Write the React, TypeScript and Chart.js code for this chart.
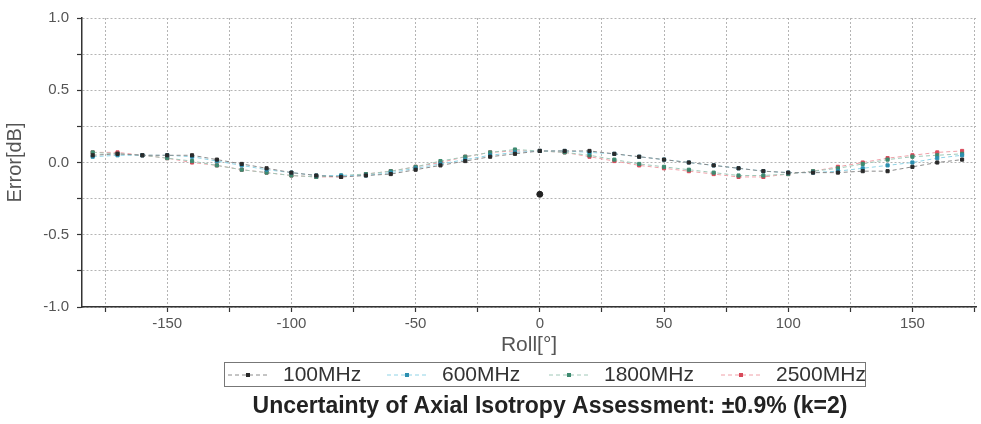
import React, { useEffect, useRef } from "react";
import { Chart, registerables } from "chart.js";

Chart.register(...registerables);

const angles = [
  -180, -170, -160, -150, -140, -130, -120, -110, -100, -90, -80, -70, -60, -50, -40, -30, -20, -10,
  0, 10, 20, 30, 40, 50, 60, 70, 80, 90, 100, 110, 120, 130, 140, 150, 160, 170,
];

const err100 = [
  0.05, 0.06, 0.05, 0.05, 0.05, 0.02, -0.01, -0.04, -0.07, -0.09, -0.1, -0.09, -0.08, -0.05, -0.02, 0.01, 0.04, 0.06,
  0.08, 0.08, 0.08, 0.06, 0.04, 0.02, 0.0, -0.02, -0.04, -0.06, -0.07, -0.07, -0.07, -0.06, -0.06, -0.03, 0.0, 0.02,
];
const err600 = [
  0.04, 0.05, 0.05, 0.05, 0.04, 0.01, -0.02, -0.05, -0.07, -0.09, -0.09, -0.09, -0.07, -0.04, -0.01, 0.02, 0.05, 0.07,
  0.08, 0.08, 0.07, 0.06, 0.04, 0.02, 0.0, -0.02, -0.04, -0.06, -0.07, -0.07, -0.06, -0.04, -0.02, 0.0, 0.03, 0.05,
];
const err1800 = [
  0.07, 0.06, 0.05, 0.03, 0.01, -0.02, -0.05, -0.07, -0.09, -0.1, -0.09, -0.08, -0.06, -0.03, 0.01, 0.04, 0.07, 0.09,
  0.08, 0.07, 0.05, 0.02, -0.01, -0.03, -0.05, -0.07, -0.09, -0.09, -0.08, -0.06, -0.04, -0.01, 0.02, 0.04, 0.05, 0.06,
];
const err2500 = [
  0.07, 0.07, 0.05, 0.03, 0.0, -0.02, -0.05, -0.07, -0.09, -0.1, -0.1, -0.08, -0.06, -0.03, 0.0, 0.04, 0.07, 0.08,
  0.08, 0.07, 0.04, 0.01, -0.02, -0.04, -0.06, -0.08, -0.1, -0.1, -0.08, -0.06, -0.03, 0.0, 0.03, 0.05, 0.07, 0.08,
];
// isolated 100MHz reading at roll 0
const outlierX = [0];
const outlierY = [-0.22];

const seriesNames = ["100MHz", "600MHz", "1800MHz", "2500MHz"];
const xTickValues = [-175, -150, -125, -100, -75, -50, -25, 0, 25, 50, 75, 100, 125, 150, 175];
const yTickValues = [-1, -0.75, -0.5, -0.25, 0, 0.25, 0.5, 0.75, 1];

const title = "Uncertainty of Axial Isotropy Assessment: \u00b10.9% (k=2)";
const FONT = "'Liberation Sans', Arial, sans-serif";

const lineColors = ["#8a8a8a", "#8fd3e6", "#a0c8b8", "#f0a0a8"];
const pointColors = ["#2a2a2a", "#2c8fb0", "#3e8a70", "#d84a5a"];

const legendPlugin = {
  id: "boxLegend",
  afterDraw(chart: any) {
    const ctx = chart.ctx;
    const ds = chart.data.datasets.filter((d: any) => !d.noLegend);
    const left = 224;
    const right = 865;
    const top = 362;
    const bottom = 386;
    ctx.save();
    ctx.strokeStyle = "#777";
    ctx.lineWidth = 1;
    ctx.strokeRect(left + 0.5, top + 0.5, right - left, bottom - top);
    ctx.font = `21px ${FONT}`;
    ctx.textBaseline = "middle";
    ctx.textAlign = "left";
    const starts = [228, 387, 549, 721];
    const cy = (top + bottom) / 2 + 1;
    ds.forEach((d: any, i: number) => {
      const sx = starts[i];
      ctx.strokeStyle = d.borderColor;
      ctx.lineWidth = 1;
      ctx.setLineDash([4, 3]);
      ctx.beginPath();
      ctx.moveTo(sx, cy);
      ctx.lineTo(sx + 40, cy);
      ctx.stroke();
      ctx.setLineDash([]);
      ctx.fillStyle = d.pointBackgroundColor;
      ctx.fillRect(sx + 18, cy - 2, 4, 4);
      ctx.fillStyle = "#333";
      ctx.fillText(d.label, sx + 55, cy);
    });
    ctx.font = `bold 23px ${FONT}`;
    ctx.textAlign = "center";
    ctx.fillStyle = "#222";
    ctx.fillText(title, 550, 407);
    ctx.restore();
  },
};

export default function App() {
  const ref = useRef<HTMLCanvasElement>(null);
  useEffect(() => {
    if (!ref.current) return;
    const series = [err100, err600, err1800, err2500];
    const datasets: any[] = series.map((vals, i) => ({
      label: seriesNames[i],
      data: angles.map((a, j) => ({ x: a, y: vals[j] })),
      borderColor: lineColors[i],
      borderWidth: 1,
      borderDash: [4, 3],
      pointStyle: "rect",
      pointRadius: 2.2,
      pointBackgroundColor: pointColors[i],
      pointBorderColor: pointColors[i],
      pointBorderWidth: 1,
      showLine: true,
      fill: false,
    }));
    datasets.push({
      label: "100MHz (0\u00b0)",
      noLegend: true,
      data: outlierX.map((x, j) => ({ x, y: outlierY[j] })),
      showLine: false,
      pointStyle: "circle",
      pointRadius: 3,
      pointBackgroundColor: "#222",
      pointBorderColor: "#222",
      borderColor: "#222",
    });
    const chart = new Chart(ref.current, {
      type: "scatter",
      data: { datasets },
      options: {
        animation: false,
        responsive: false,
        devicePixelRatio: 1,
        layout: { padding: { top: 18, right: 3, bottom: 65, left: 0 } },
        plugins: { legend: { display: false }, tooltip: { enabled: false } },
        scales: {
          x: {
            type: "linear",
            min: -184.3,
            max: 175.6,
            afterBuildTicks: (s: any) => {
              s.ticks = xTickValues.map((v) => ({ value: v }));
            },
            afterFit: (s: any) => {
              s.height = 52;
            },
            ticks: {
              autoSkip: false,
              maxRotation: 0,
              padding: 3,
              color: "#555",
              font: { size: 15, family: FONT },
              callback: (v: any) => (v % 50 === 0 ? String(v) : ""),
            },
            grid: {
              color: "#b4b4b4",
              lineWidth: 1,
              tickLength: 5,
              tickColor: "#333",
              tickWidth: 1.2,
            },
            border: { display: true, color: "#333", width: 1.5, dash: [2, 2] },
            title: {
              display: true,
              text: "Roll[\u00b0]",
              color: "#555",
              font: { size: 21, family: FONT },
              padding: { top: 0, bottom: 1 },
            },
          },
          y: {
            type: "linear",
            min: -1,
            max: 1,
            afterBuildTicks: (s: any) => {
              s.ticks = yTickValues.map((v) => ({ value: v }));
            },
            afterFit: (s: any) => {
              s.width = 82;
            },
            ticks: {
              padding: 8,
              color: "#555",
              font: { size: 15, family: FONT },
              callback: (v: any) => (Math.abs((v * 2) % 1) < 1e-9 ? Number(v).toFixed(1) : ""),
            },
            grid: {
              color: "#b4b4b4",
              lineWidth: 1,
              tickLength: 5,
              tickColor: "#333",
              tickWidth: 1.2,
            },
            border: { display: true, color: "#333", width: 1.5, dash: [2, 2] },
            title: {
              display: true,
              text: "Error[dB]",
              color: "#555",
              font: { size: 20, family: FONT },
              padding: { top: 3, bottom: 0 },
            },
          },
        },
      },
      plugins: [legendPlugin],
    });
    return () => chart.destroy();
  }, []);
  return (
    <div style={{ position: "absolute", left: 0, top: 0, width: 981, height: 424, background: "#fff" }}>
      <canvas ref={ref} width={981} height={424} style={{ display: "block" }} />
    </div>
  );
}
